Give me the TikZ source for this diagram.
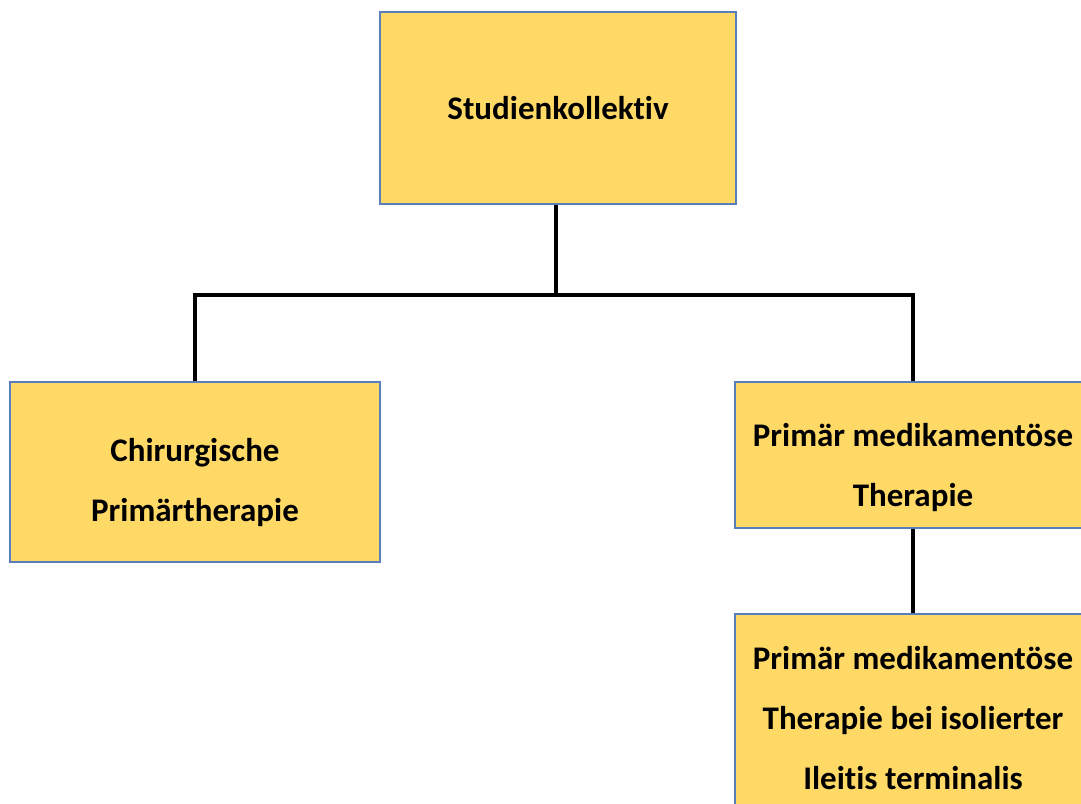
\documentclass[tikz,border=0pt]{standalone}
\usepackage{fontspec}
\setmainfont{Carlito}[Ligatures=NoCommon]
\definecolor{boxfill}{HTML}{FFD966}
\definecolor{boxline}{HTML}{5A7EBD}
\begin{document}
\begin{tikzpicture}[x=1pt,y=-1pt,
  box/.style={draw=boxline,line width=1.3pt,fill=boxfill,rectangle,inner sep=0pt},
  txt/.style={inner sep=0pt,align=center,font=\fontsize{33}{60}\selectfont\bfseries},
  conn/.style={draw=black,line width=3.5pt}]
\useasboundingbox (0,0) rectangle (1081,803);
\clip (0,0) rectangle (1081,803);
\node[box,minimum width=356pt,minimum height=192pt] (top) at (558,108) {};
\node[box,minimum width=370pt,minimum height=180pt] (left) at (195,472) {};
\node[box,minimum width=356pt,minimum height=146pt] (right) at (913,455) {};
\node[box,minimum width=356pt,minimum height=236pt] (bottom) at (913,732) {};
\node[txt] (ttop) at (558,108) {Studienkollektiv};
\node[txt] (tleft) at (195,483) {Chirurgische\\Primärtherapie};
\node[txt] (tright) at (913,468) {Primär medikamentöse\\Therapie};
\node[txt] (tbottom) at (913,718) {Primär medikamentöse\\Therapie bei isolierter\\Ileitis terminalis};
\coordinate (j) at (556,295);
\draw[conn] (top.south -| j) -- (j);
\draw[conn] (left.north) |- (j) -| (right.north);
\draw[conn] (right.south) -- (bottom.north);
\end{tikzpicture}
\end{document}
